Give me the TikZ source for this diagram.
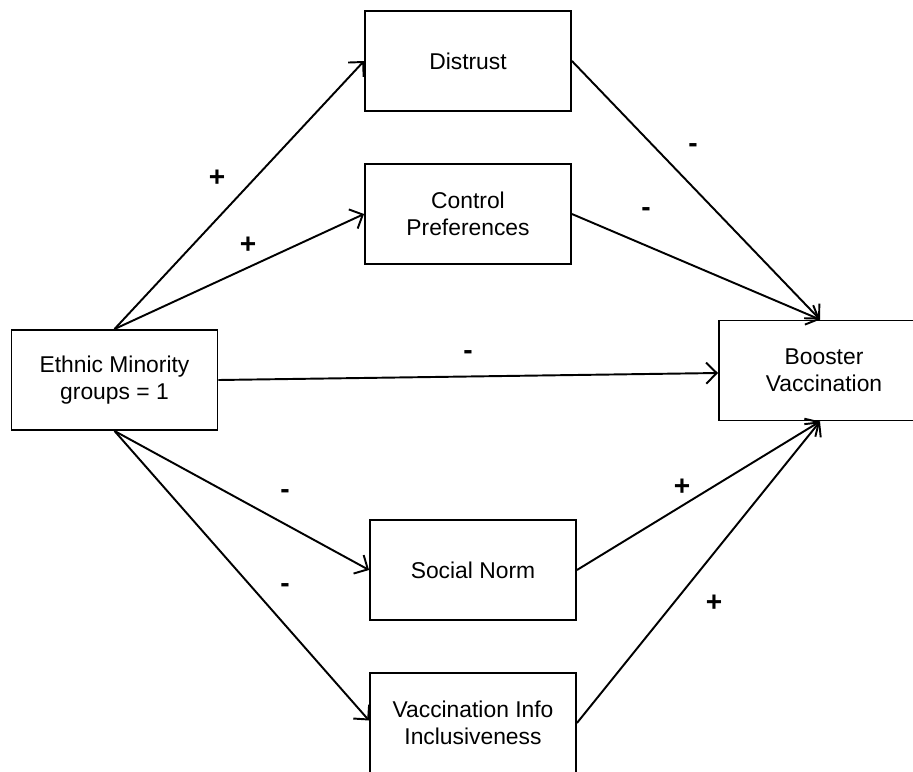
\documentclass[tikz,border=0pt]{standalone}
\usepackage{fontspec}
\setmainfont{Liberation Sans}
\usepackage{tikz}
\usetikzlibrary{positioning,arrows.meta}
\tikzset{
    x=0.02cm,
    y=-0.02cm,
    block/.style = {
        draw,
        shape=rectangle,
        minimum height=2cm,
        minimum width=4.12cm,
        line width=1.1pt,
        align=center,
        font=\fontsize{13}{15.5}\selectfont
    },
    sign/.style = {
        font=\fontsize{16}{16}\selectfont\bfseries
    },
    link/.style = {
        draw,
        line width=1.1pt,
        -{Straight Barb[length=6pt,width=12pt,line width=1.1pt]}
    },
}

\begin{document}
\begin{tikzpicture}
                \useasboundingbox (0,0) rectangle (913,771);
                \node[block] (ethnic) at (114.5,380) {Ethnic Minority\\groups = 1};
                \node[block] (distrust) at (468,61) {Distrust};
                \node[block] (control) at (468,214) {Control\\Preferences};
                \node[block, minimum width=4.2cm] (booster) at (824,370.5) {Booster\\Vaccination};
                \node[block] (social) at (473,570) {Social Norm};
                \node[block] (vacc) at (473,723) {Vaccination Info\\Inclusiveness};

                \path[link] (ethnic.north) -- (distrust.west);
                \path[link] (ethnic.north) -- (control.west);
                \path[link] (ethnic.east) -- ([yshift=-0.05cm]booster.west);
                \path[link] (ethnic.south) -- (social.west);
                \path[link] (ethnic.south) -- ([yshift=0.05cm]vacc.west);
                \path[link] (distrust.east) -- ([xshift=-0.08cm]booster.north);
                \path[link] (control.east) -- ([xshift=-0.08cm]booster.north);
                \path[link] (social.east) -- ([xshift=-0.08cm]booster.south);
                \path[link] (vacc.east) -- ([xshift=-0.08cm]booster.south);

                \node[sign] (s1) at (217,178) {+};
                \node[sign] (s2) at (248,245) {+};
                \node[sign] (s3) at (693,148) {-};
                \node[sign] (s4) at (646,212) {-};
                \node[sign] (s5) at (468,355) {-};
                \node[sign] (s6) at (285,494) {-};
                \node[sign] (s7) at (285,588) {-};
                \node[sign] (s8) at (682,487) {+};
                \node[sign] (s9) at (714,603) {+};
            \end{tikzpicture}
\end{document}
